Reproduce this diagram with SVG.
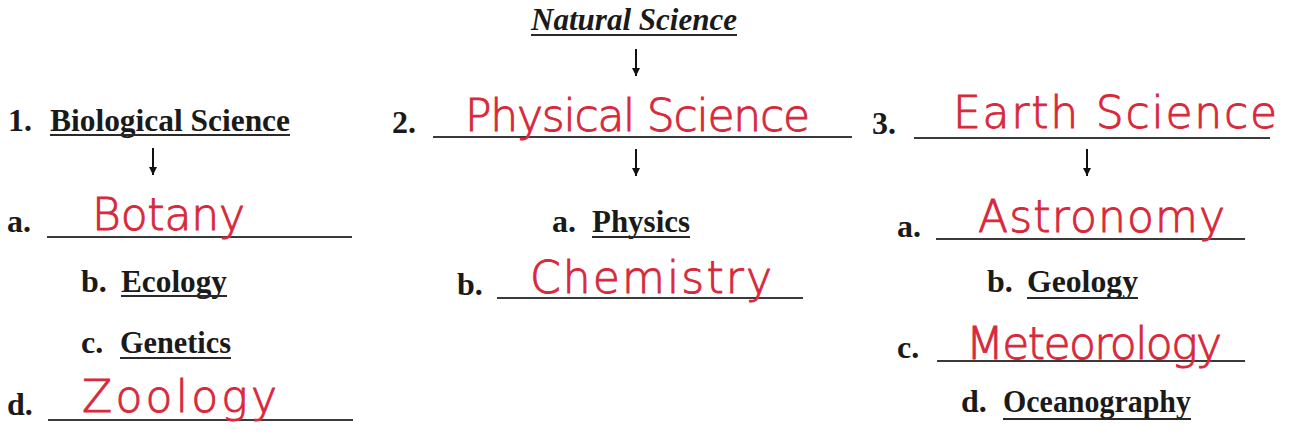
<svg xmlns="http://www.w3.org/2000/svg" width="1293" height="438" viewBox="0 0 1293 438">
<defs>
<style>
.p{font-family:"Liberation Serif","Times New Roman",serif;font-weight:bold;font-size:32px;fill:#1a1a1a}
.it{font-style:italic}
.h{font-family:"DejaVu Sans","Liberation Sans",sans-serif;font-weight:200;font-size:44px;fill:#d8283a;stroke:#d8283a;stroke-width:0.9}
.u{stroke:#2a2a2a;stroke-width:2}
.bl{stroke:#3a3a3a;stroke-width:2.2}
.ar{stroke:#111;stroke-width:2;fill:none}
</style>
<marker id="ah" viewBox="0 0 10 10" refX="10" refY="5" markerWidth="8" markerHeight="8" markerUnits="userSpaceOnUse" orient="auto">
<path d="M0,0 L10,5 L0,10 Z" fill="#111"/>
</marker>
</defs>
<rect width="1293" height="438" fill="#fff"/>

<g id="natural-science">
<text class="p it" x="531" y="30" textLength="206" lengthAdjust="spacingAndGlyphs">Natural Science</text>
<line class="u" x1="531" y1="35" x2="737" y2="35"/>
</g>

<g id="biological-science">
<text class="p" x="8" y="131">1.</text>
<text class="p" x="50" y="131" textLength="240" lengthAdjust="spacingAndGlyphs">Biological Science</text>
<line class="u" x1="50" y1="135" x2="290" y2="135"/>
</g>

<g id="physical-science">
<text class="p" x="392" y="133">2.</text>
<line class="bl" x1="433" y1="137" x2="852" y2="137"/>
<text class="h" x="465" y="131" textLength="345" lengthAdjust="spacing">Physical Science</text>
</g>

<g id="earth-science">
<text class="p" x="872" y="134">3.</text>
<line class="bl" x1="914" y1="138" x2="1270" y2="138"/>
<text class="h" x="953" y="128" textLength="324" lengthAdjust="spacing">Earth Science</text>
</g>

<g id="botany">
<text class="p" x="7" y="232">a.</text>
<line class="bl" x1="47" y1="237" x2="352" y2="237"/>
<text class="h" x="92" y="230" textLength="153" lengthAdjust="spacing">Botany</text>
</g>

<g id="ecology">
<text class="p" x="81" y="292">b.</text>
<text class="p" x="121" y="292" textLength="106" lengthAdjust="spacingAndGlyphs">Ecology</text>
<line class="u" x1="121" y1="296" x2="227" y2="296"/>
</g>

<g id="genetics">
<text class="p" x="81" y="353">c.</text>
<text class="p" x="120" y="353" textLength="111" lengthAdjust="spacingAndGlyphs">Genetics</text>
<line class="u" x1="120" y1="358" x2="231" y2="358"/>
</g>

<g id="zoology">
<text class="p" x="7" y="415">d.</text>
<line class="bl" x1="48" y1="420" x2="353" y2="420"/>
<text class="h" x="82" y="412" textLength="195" lengthAdjust="spacing">Zoology</text>
</g>

<g id="physics">
<text class="p" x="552" y="232">a.</text>
<text class="p" x="592" y="232" textLength="98" lengthAdjust="spacingAndGlyphs">Physics</text>
<line class="u" x1="592" y1="237" x2="690" y2="237"/>
</g>

<g id="chemistry">
<text class="p" x="457" y="295">b.</text>
<line class="bl" x1="497" y1="298" x2="803" y2="298"/>
<text class="h" x="530" y="293" textLength="242" lengthAdjust="spacing">Chemistry</text>
</g>

<g id="astronomy">
<text class="p" x="897" y="237">a.</text>
<line class="bl" x1="936" y1="239" x2="1245" y2="239"/>
<text class="h" x="978" y="232" textLength="247" lengthAdjust="spacing">Astronomy</text>
</g>

<g id="geology">
<text class="p" x="987" y="292">b.</text>
<text class="p" x="1027" y="292" textLength="111" lengthAdjust="spacingAndGlyphs">Geology</text>
<line class="u" x1="1027" y1="298" x2="1138" y2="298"/>
</g>

<g id="meteorology">
<text class="p" x="897" y="358">c.</text>
<line class="bl" x1="937" y1="361" x2="1245" y2="361"/>
<text class="h" x="966" y="359" textLength="256" lengthAdjust="spacing">Meteorology</text>
</g>

<g id="oceanography">
<text class="p" x="961" y="412">d.</text>
<text class="p" x="1003" y="412" textLength="188" lengthAdjust="spacingAndGlyphs">Oceanography</text>
<line class="u" x1="1003" y1="419" x2="1191" y2="419"/>
</g>

<g id="connectors">
<line class="ar" x1="636" y1="49" x2="636" y2="76" marker-end="url(#ah)"/>
<line class="ar" x1="153" y1="148" x2="153" y2="175" marker-end="url(#ah)"/>
<line class="ar" x1="636" y1="149" x2="636" y2="176" marker-end="url(#ah)"/>
<line class="ar" x1="1087" y1="149" x2="1087" y2="176" marker-end="url(#ah)"/>
</g>
</svg>
